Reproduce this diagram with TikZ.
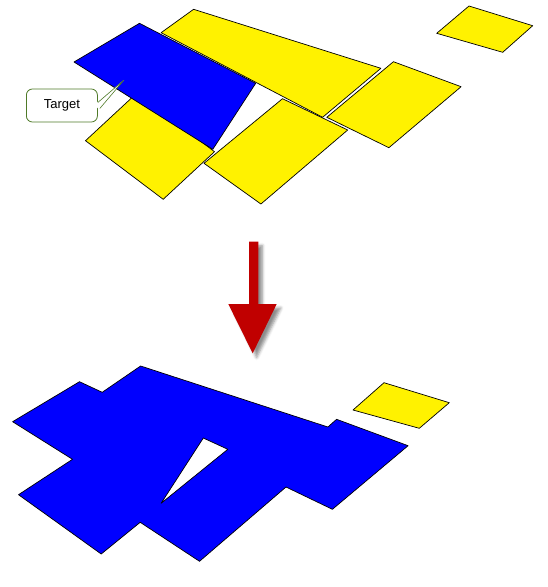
\documentclass[tikz,border=0pt]{standalone}
\usepackage{fontspec}
\setmainfont{Liberation Sans}
\usepackage{tikz}
\usetikzlibrary{shadows.blur}
\definecolor{calloutgreen}{RGB}{79,122,40}
\definecolor{arrowred}{RGB}{192,0,0}

\begin{document}
\begin{tikzpicture}[x=1pt,y=-1pt,
  tile/.style={fill=yellow,draw=black,line width=0.7pt,line join=round},
  picked/.style={fill=blue,draw=black,line width=0.7pt,line join=round}]
\useasboundingbox (0,0) rectangle (547,587);
% before
\draw[tile] (161.1,32.7) -- (193.6,9.3) -- (380.9,68.3) -- (322.6,117.3) -- cycle;
\draw[tile] (326.8,117.3) -- (393.4,61.7) -- (461.1,86.7) -- (388.9,147.7) -- cycle;
\draw[tile] (436.7,33.3) -- (469,6) -- (532.7,25.7) -- (502.7,52.3) -- cycle;
\draw[tile] (85.5,140.7) -- (136.8,93.1) -- (214.5,151.7) -- (163.2,199.3) -- cycle;
\draw[tile] (204,163.3) -- (282.5,98.7) -- (347.7,130) -- (260.9,204) -- cycle;
\draw[picked] (74,62) -- (139.5,23.3) -- (255.7,83.3) -- (212.8,149.3) -- cycle;
\coordinate (tip) at (124,80);
\node[draw=calloutgreen,line width=0.8pt,fill=white,rounded corners=6pt,
  minimum width=71pt,minimum height=33pt,font=\fontsize{13}{15}\selectfont] (target) at (61.9,105.5) {Target};
\fill[white] ([xshift=-1pt,yshift=3pt]target.east) -- (tip) -- ([xshift=-1pt,yshift=-3pt]target.east) -- cycle;
\draw[calloutgreen,line width=0.6pt] ([yshift=3pt]target.east) -- (tip) -- ([xshift=2pt,yshift=-3pt]target.east);
% arrow
\fill[arrowred,blur shadow={shadow xshift=4pt,shadow yshift=-4pt,shadow blur radius=3pt,shadow opacity=45}]
  (249,241.7) -- (258.3,241.7) -- (258.3,304) -- (276.7,304) -- (252.7,353.3) -- (228.3,304) -- (249,304) -- cycle;
% after
\draw[tile] (353,410) -- (384,382.7) -- (449.3,402.7) -- (419.3,428.3) -- cycle;
\draw[picked,even odd rule] (140.6,366) -- (327.9,427) -- (336.6,419.3) -- (408.1,445.7) -- (332.4,509.3)
  -- (286,487) -- (199.5,561.3) -- (140.2,522.3) -- (101.2,554) -- (18.5,494.7) -- (72.5,459.3)
  -- (12.6,421.7) -- (79.5,381.7) -- (102.2,392.3) -- cycle
  (203.3,438) -- (227.8,449.3) -- (161.1,503.3) -- cycle;
\end{tikzpicture}
\end{document}
